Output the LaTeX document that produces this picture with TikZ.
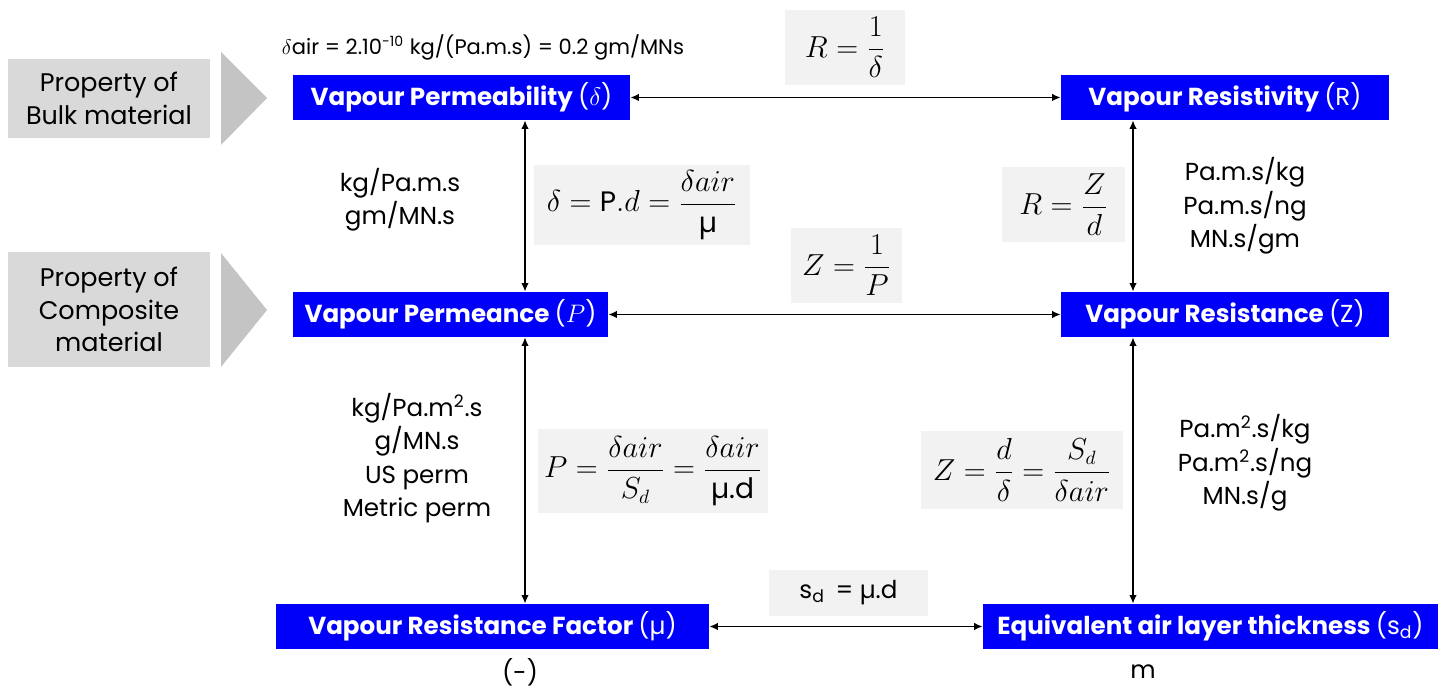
\documentclass[tikz,border=0pt]{standalone}
\usepackage{amsmath}
\usepackage{fontspec}
\setmainfont{Poppins}
\usetikzlibrary{arrows.meta,positioning}
\definecolor{BoxBlue}{RGB}{0,0,250}
\definecolor{FormGray}{RGB}{242,242,242}
\definecolor{PropGray}{RGB}{217,217,217}
\definecolor{ChevGray}{RGB}{196,196,196}
\newcommand{\qsym}[1]{{\mdseries(#1)}}

\begin{document}
\begin{tikzpicture}[x=0.02cm, y=-0.02cm,
  qty/.style={fill=BoxBlue, text=white, font=\fontsize{14}{16}\selectfont\bfseries,
              inner sep=0pt, minimum height=0.9cm},
  frm/.style={fill=FormGray, inner sep=0pt, font=\fontsize{16}{19}\selectfont},
  prop/.style={fill=PropGray, align=center, inner sep=0pt, minimum width=4.04cm,
               font=\fontsize{14.5}{18.5}\selectfont},
  unit/.style={align=center, font=\fontsize{14}{19}\selectfont},
  sig/.style={{Latex[length=1.7mm,width=1.5mm]}-{Latex[length=1.7mm,width=1.5mm]}, line width=0.9pt}]
  \useasboundingbox (0,0) rectangle (1441,688);

  % --- property labels on the left ---
  \node[prop, minimum height=1.58cm] (bulk) at (109,98.5) {Property of\\Bulk material};
  \node[prop, minimum height=2.3cm] (comp) at (109,309.5) {Property of\\Composite\\material};
  \fill[ChevGray] (221,52) -- (267,98) -- (221,145) -- cycle;
  \fill[ChevGray] (221,253) -- (267,310) -- (221,367) -- cycle;

  % --- quantities ---
  \node[qty, minimum width=6.74cm] (pb) at (461.5,97.5)  {Vapour Permeability \qsym{$\delta$}};
  \node[qty, minimum width=6.56cm] (rv) at (1225,97.5)   {Vapour Resistivity \qsym{R}};
  \node[qty, minimum width=6.3cm]  (pn) at (450.5,314.5) {Vapour Permeance \qsym{$P$}};
  \node[qty, minimum width=6.56cm] (rs) at (1225,314.5)  {Vapour Resistance \qsym{Z}};
  \node[qty, minimum width=8.66cm] (mu) at (492.5,626.5) {Vapour Resistance Factor \qsym{µ}};
  \node[qty, minimum width=9.1cm]  (sd) at (1210.5,626.5) {Equivalent air layer thickness \qsym{s\textsubscript{d}}};

  % --- relations ---
  \coordinate (lx) at (525,0);
  \coordinate (rx) at (1133,0);
  \draw[sig] (pb) -- (rv);
  \draw[sig] (pn) -- (rs);
  \draw[sig] (mu) -- (sd);
  \draw[sig] (pb.south -| lx) -- (pn.north -| lx);
  \draw[sig] (pn.south -| lx) -- (mu.north -| lx);
  \draw[sig] (rv.south -| rx) -- (rs.north -| rx);
  \draw[sig] (rs.south -| rx) -- (sd.north -| rx);

  % --- formulas ---
  \node[frm, minimum width=2.4cm, minimum height=1.5cm]   (fR)  at (845,47.5)   {$R = \dfrac{1}{\delta}$};
  \node[frm, minimum width=4.32cm, minimum height=1.6cm]  (fd)  at (642,205)    {$\delta = \mathrm{P}.d = \dfrac{\delta air}{\text{µ}}$};
  \node[frm, minimum width=2.46cm, minimum height=1.5cm]  (fRZ) at (1063.5,204.5) {$R = \dfrac{Z}{d}$};
  \node[frm, minimum width=2.22cm, minimum height=1.5cm]  (fZ)  at (846.5,265.5) {$Z = \dfrac{1}{P}$};
  \node[frm, minimum width=4.6cm, minimum height=1.68cm]  (fP)  at (653,471)    {$P = \dfrac{\delta air}{S_d} = \dfrac{\delta air}{\text{µ.d}}$};
  \node[frm, minimum width=4.04cm, minimum height=1.56cm] (fZd) at (1022,470)   {$Z = \dfrac{d}{\delta} = \dfrac{S_d}{\delta air}$};
  \node[frm, minimum width=3.18cm, minimum height=0.92cm, font=\fontsize{14}{17}\selectfont] (fs) at (848.5,593) {s\textsubscript{d} \,= µ.d\hspace{0.7cm}};

  % --- units ---
  \node[unit, font=\fontsize{12}{14}\selectfont] (air) at (483,47) {$\delta$air = 2.10\textsuperscript{-10} kg/(Pa.m.s) = 0.2 gm/MNs};
  \node[unit] (upb) at (400,200)  {kg/Pa.m.s\\gm/MN.s};
  \node[unit] (urv) at (1245,206) {Pa.m.s/kg\\Pa.m.s/ng\\MN.s/gm};
  \node[unit] (upn) at (417,458)  {kg/Pa.m\textsuperscript{2}.s\\g/MN.s\\US perm\\Metric perm};
  \node[unit] (urs) at (1245,463) {Pa.m\textsuperscript{2}.s/kg\\Pa.m\textsuperscript{2}.s/ng\\MN.s/g};
  \node[unit, inner sep=0pt] (umu) at (520,672)  {(-)};
  \node[unit, inner sep=0pt] (usd) at (1143,672) {m};
\end{tikzpicture}
\end{document}
